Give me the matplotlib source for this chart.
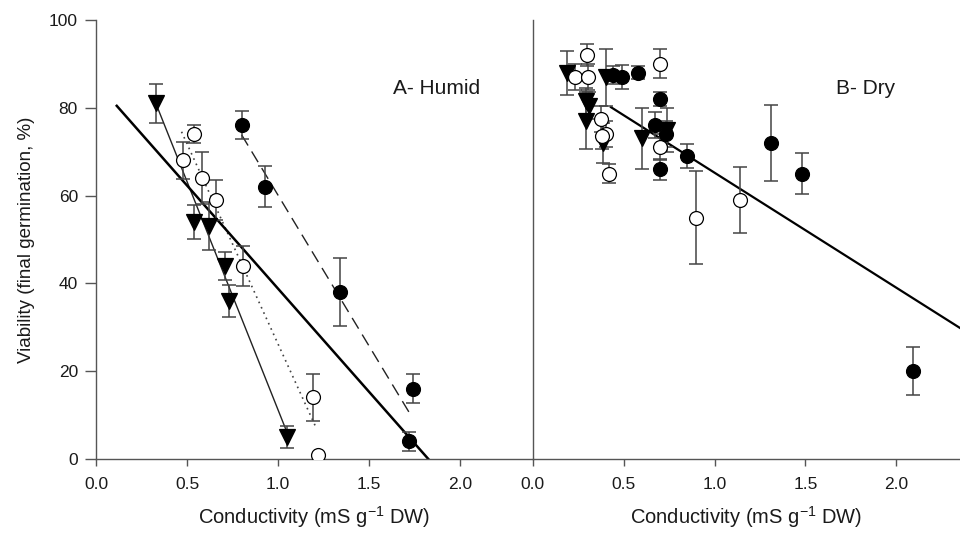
import matplotlib
matplotlib.use("Agg")
import matplotlib.pyplot as plt
import numpy as np

plt.rcParams['font.family'] = ['Liberation Sans', 'DejaVu Sans']

# ---------------- Panel A (Humid) ----------------
a_tri_x = [0.33, 0.54, 0.62, 0.71, 0.73, 1.05]
a_tri_y = [81, 54, 53, 44, 36, 5]
a_tri_e = [4.5, 3.8, 5.5, 3.2, 3.6, 2.5]

a_open_x = [0.48, 0.54, 0.58, 0.66, 0.81, 1.19, 1.22]
a_open_y = [68, 74, 64, 59, 44, 14, 1]
a_open_e = [4.2, 2.0, 6.0, 4.5, 4.5, 5.3, 0]

a_fill_x = [0.80, 0.93, 1.34, 1.74, 1.72]
a_fill_y = [76, 62, 38, 16, 4]
a_fill_e = [3.2, 4.7, 7.8, 3.3, 2.2]

# regression lines: (x start, x end, intercept, slope)
a_fit_tri = (0.33, 1.05, 115.2, -104.0)
a_fit_open = (0.47, 1.21, 117.4, -91.2)
a_fit_fill = (0.80, 1.735, 128.8, -68.7)
a_fit_all = (0.114, 1.825, 85.8, -47.0)

# ---------------- Panel B (Dry) ----------------
b_tri_x = [0.19, 0.29, 0.31, 0.295, 0.385, 0.40, 0.60, 0.74]
b_tri_y = [88, 81.5, 80.5, 77, 72, 87, 73, 75]
b_tri_e = [5.0, 3.0, 3.0, 6.5, 4.5, 6.5, 7.0, 5.0]

b_open_x = [0.23, 0.30, 0.305, 0.375, 0.40, 0.38, 0.42, 0.70, 0.70, 0.90, 1.14]
b_open_y = [87, 92, 87, 77.5, 74, 73.5, 65, 90, 71, 55, 59]
b_open_e = [3.0, 2.5, 3.0, 3.0, 3.0, 3.0, 2.2, 3.3, 3.0, 10.7, 7.5]

b_fill_x = [0.44, 0.49, 0.58, 0.70, 0.67, 0.735, 0.70, 0.85, 1.31, 1.48, 2.09]
b_fill_y = [87.5, 87, 88, 82, 76, 74, 66, 69, 72, 65, 20]
b_fill_e = [2.0, 2.7, 1.5, 1.5, 3.0, 3.0, 2.4, 2.8, 8.6, 4.7, 5.4]

b_fit_all = (0.43, 2.40, 91.4, -26.2)

xticks = [0.0, 0.5, 1.0, 1.5, 2.0]
yticks = [0, 20, 40, 60, 80, 100]

fig = plt.figure(figsize=(9.6, 5.33), dpi=100)
axA = fig.add_axes([0.1, 0.139, 0.455, 0.8235])
axB = fig.add_axes([0.555, 0.139, 0.445, 0.8235])

spine_c = '#555555'
err_c = '#444444'
txt_c = '#1a1a1a'
ms = 10

def draw_fit(ax, fit, **kw):
    x0, x1, a, b = fit
    xs = np.array([x0, x1])
    ax.plot(xs, a + b * xs, **kw)

def draw_points(ax, xs, ys, es, marker, face, ms_=ms):
    ax.errorbar(xs, ys, yerr=es, fmt='none', ecolor=err_c, elinewidth=1.1,
                capsize=5, capthick=1.1, zorder=3)
    ax.plot(xs, ys, linestyle='none', marker=marker, markersize=ms_,
            markerfacecolor=face, markeredgecolor='black', markeredgewidth=0.9,
            zorder=4)

# Panel A
draw_fit(axA, a_fit_tri, color='#222222', lw=1.0, zorder=2)
draw_fit(axA, a_fit_open, color='#444444', lw=1.2, linestyle=(0, (1, 2.5)), zorder=2)
draw_fit(axA, a_fit_fill, color='#222222', lw=1.0, linestyle=(0, (9, 5)), zorder=2)
draw_fit(axA, a_fit_all, color='black', lw=1.8, zorder=2)
draw_points(axA, a_tri_x, a_tri_y, a_tri_e, 'v', 'black', ms + 1)
draw_points(axA, a_open_x, a_open_y, a_open_e, 'o', 'white')
draw_points(axA, a_fill_x, a_fill_y, a_fill_e, 'o', 'black')

# Panel B
draw_fit(axB, b_fit_all, color='black', lw=1.6, zorder=2)
draw_points(axB, b_tri_x, b_tri_y, b_tri_e, 'v', 'black', ms + 1)
draw_points(axB, b_open_x, b_open_y, b_open_e, 'o', 'white')
draw_points(axB, b_fill_x, b_fill_y, b_fill_e, 'o', 'black')

for ax in (axA, axB):
    ax.set_ylim(0, 100)
    ax.set_xticks(xticks)
    ax.set_xticklabels([f"{t:.1f}" for t in xticks])
    ax.spines['top'].set_visible(False)
    ax.spines['right'].set_visible(False)
    ax.spines['left'].set_color(spine_c)
    ax.spines['bottom'].set_color(spine_c)
    ax.spines['left'].set_linewidth(1.0)
    ax.spines['bottom'].set_linewidth(1.0)
    ax.tick_params(axis='x', direction='out', length=5, width=1.0, color=spine_c,
                   labelsize=12.5, pad=8, labelcolor=txt_c)
    ax.set_xlabel('Conductivity (mS g$^{\\mathregular{-1}}$ DW)', fontsize=14.5,
                  labelpad=9, color=txt_c)
    ax.patch.set_alpha(0)

axA.set_xlim(0, 2.40)
axB.set_xlim(0, 2.35)
axA.set_yticks(yticks)
axA.tick_params(axis='y', direction='out', length=8, width=1.0, color=spine_c,
                labelsize=12.5, pad=5, labelcolor=txt_c)
axA.set_ylabel('Viability (final germination, %)', fontsize=13.5, labelpad=10,
               color=txt_c)
axB.set_yticks([])

axA.text(0.78, 0.845, 'A- Humid', transform=axA.transAxes, fontsize=15,
         ha='center', va='center', color=txt_c)
axB.text(0.78, 0.845, 'B- Dry', transform=axB.transAxes, fontsize=15,
         ha='center', va='center', color=txt_c)

fig.savefig('out.png', dpi=100)
